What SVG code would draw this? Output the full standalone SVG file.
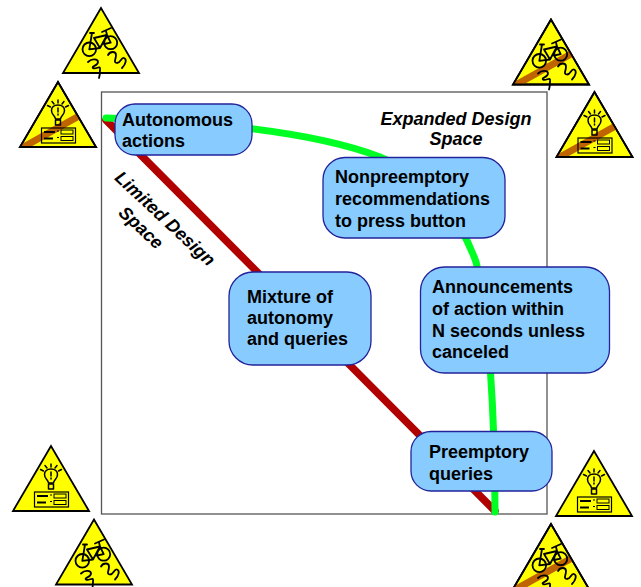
<svg xmlns="http://www.w3.org/2000/svg" xmlns:xlink="http://www.w3.org/1999/xlink" width="641" height="587" viewBox="0 0 641 587">
<style>
text{font-family:"Liberation Sans",Arial,sans-serif;font-weight:bold;font-size:18px;fill:#000}
.i{font-style:italic}
.box{fill:#88ccff;stroke:#22229a;stroke-width:1.3}
.tri{fill:#ffff00;stroke:#000;stroke-width:1.8;stroke-linejoin:miter}
.g{fill:none;stroke:#000;stroke-width:1.5;stroke-linecap:round;stroke-linejoin:round}
.t{fill:none;stroke:#000;stroke-width:1.8;stroke-linecap:round;stroke-linejoin:round}
.st{stroke:#c06400;stroke-width:7;fill:none}
</style>
<defs>
<clipPath id="c"><polygon points="0,0 -38,65 38,65"/></clipPath>
<g id="tribase"><polygon class="tri" points="0,0 -38,65 38,65"/></g>
<g id="bikeart">
<circle class="t" cx="-11.700" cy="41.300" r="6.800"/><circle class="t" cx="9.700" cy="34.700" r="6.500"/>
<path class="t" d="M-11.700,41.300 L-9,25 M-7,30 L6,27 L-1,40 L-11.700,41.300 M-7,30 L-1,40 M-11,25 L-7,25 M6,27 L9.700,34.700 L3,36 M6,27 L5,23 M1,24 L10,20"/>
<path class="t" stroke-width="2" d="M-13,54 C-9,50 -3,51 -3,54 C-3,58 -10,58 -8,60 C-5,62 0,56 -1,62 C-1,65 -1,67 -2,70"/>
<path class="t" stroke-width="2" d="M7,47 C9,43 15,43 15,47 C15,52 12,54 16,55 C20,55 20,49 23,50 C26,51 25,56 21,60"/>
</g>
<g id="bulbart">
<path class="g" d="M-2.500,37 C-3,33 -6.500,33 -6.500,28.500 C-6.500,25 -3.500,23 0,23 C3.500,23 6.500,25 6.500,28.500 C6.500,33 3,33 2.500,37 Z"/>
<path class="g" d="M-2.500,38 L2.500,38 L2.500,43 L-2.500,43 Z"/>
<path class="g" d="M0,26 L0,30 M0,32 L0,33 M0,18 L0,21 M-6,19.500 L-4,22 M6,19.500 L4,22 M-10.500,23.500 L-7.500,25 M10.500,23.500 L7.500,25"/>
<rect x="-16.500" y="46" width="34" height="15" fill="none" stroke="#000" stroke-width="1.200"/>
<path d="M-14,50 H-3 M-14,56.500 H-5" stroke="#000" stroke-width="1.800"/>
<rect x="3" y="48" width="12" height="4" fill="none" stroke="#000"/><rect x="3" y="54.500" width="12" height="4" fill="none" stroke="#000"/>
<path d="M-1,49 H1 M-1,55.500 H1" stroke="#000" stroke-width="1"/>
</g>
<g id="bike"><use xlink:href="#tribase"/><use xlink:href="#bikeart"/></g>
<g id="bikeno"><use xlink:href="#tribase"/><path class="st" clip-path="url(#c)" d="M-40,68 L30,29"/><use xlink:href="#bikeart"/><polygon points="0,0 -38,65 38,65" fill="none" stroke="#000" stroke-width="1.800"/></g>
<g id="bulb"><use xlink:href="#tribase"/><use xlink:href="#bulbart"/></g>
<g id="bulbno"><use xlink:href="#tribase"/><path class="st" clip-path="url(#c)" d="M-40,68 L30,29"/><use xlink:href="#bulbart"/><polygon points="0,0 -38,65 38,65" fill="none" stroke="#000" stroke-width="1.800"/></g>
</defs>
<rect width="641" height="587" fill="#fff"/>
<rect id="frame" x="101.500" y="92" width="445.500" height="422" fill="#fff" stroke="#555" stroke-width="1.300"/>
<g id="connectors" fill="none" stroke-linecap="round">
<path d="M106,120 L495,511" stroke="#b00000" stroke-width="7.500"/>
<path d="M106,118 C190,121 310,130 380,157 C430,178 462,222 476,262 C489,310 495,420 495,512" stroke="#00ff22" stroke-width="7"/>
</g>
<g id="icon-tl-bike"><use xlink:href="#bike" x="101" y="8"/></g>
<g id="icon-tl-bulb"><use xlink:href="#bulbno" x="58" y="82"/></g>
<g id="icon-tr-bike"><use xlink:href="#bikeno" x="551" y="19.500"/></g>
<g id="icon-tr-bulb"><use xlink:href="#bulbno" x="594.500" y="92"/></g>
<g id="icon-bl-bulb"><use xlink:href="#bulb" x="51" y="446"/></g>
<g id="icon-bl-bike"><use xlink:href="#bike" x="94" y="519.500"/></g>
<g id="icon-br-bulb"><use xlink:href="#bulb" x="594" y="451"/></g>
<g id="icon-br-bike"><use xlink:href="#bikeno" x="551" y="524"/></g>
<g id="node-autonomous"><rect class="box" x="115" y="104" width="137" height="51" rx="20"/><text x="122" y="125.500">Autonomous</text><text x="122" y="147">actions</text></g>
<g id="node-nonpreemptory"><rect class="box" x="323" y="157.500" width="182" height="80.500" rx="22"/><text x="335" y="182.500">Nonpreemptory</text><text x="335" y="204.500">recommendations</text><text x="335" y="226.500">to press button</text></g>
<g id="node-mixture"><rect class="box" x="229" y="272" width="142" height="93" rx="24"/><text x="247" y="302.500">Mixture of</text><text x="247" y="324">autonomy</text><text x="247" y="345">and queries</text></g>
<g id="node-announcements"><rect class="box" x="420.500" y="267" width="189" height="106" rx="24"/><text x="432" y="293">Announcements</text><text x="432" y="315">of action within</text><text x="432" y="336.500">N seconds unless</text><text x="432" y="358">canceled</text></g>
<g id="node-preemptory"><rect class="box" x="411" y="431.500" width="141" height="59.500" rx="20"/><text x="429" y="458">Preemptory</text><text x="429" y="480">queries</text></g>
<g id="label-expanded"><text class="i" x="456" y="125" text-anchor="middle">Expanded Design</text><text class="i" x="456" y="145" text-anchor="middle">Space</text></g>
<g id="label-limited"><text class="i" transform="translate(161,223) rotate(43)" text-anchor="middle" x="0" y="0">Limited Design</text><text class="i" transform="translate(137,232) rotate(43)" text-anchor="middle" x="0" y="0">Space</text></g>
</svg>
